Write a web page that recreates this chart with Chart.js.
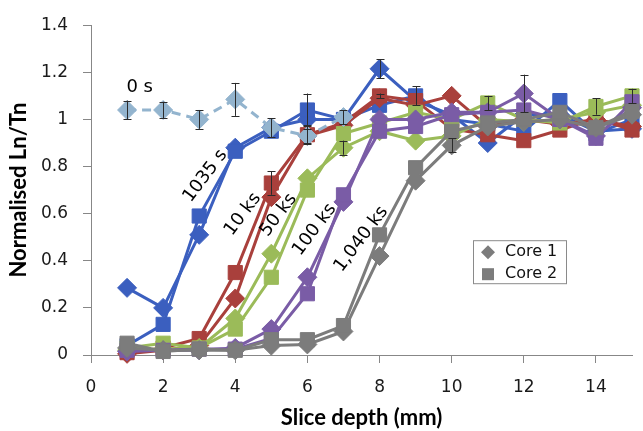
<!DOCTYPE html>
<html><head><meta charset="utf-8">
<script src="https://cdn.jsdelivr.net/npm/chart.js@4/dist/chart.umd.min.js"></script>
<style>html,body{margin:0;padding:0;background:#fff;overflow:hidden}canvas{display:block}</style>
</head><body>
<canvas id="c" width="643" height="431"></canvas>
<script>
// ---------- data ----------
const depths = [1,2,3,4,5,6,7,8,9,10,11,12,13,14,15];
const timeLabels = ['0 s','1035 s','10 ks','50 ks','100 ks','1,040 ks'];
const coreLabels = ['Core 1','Core 2'];
const xTickValues = [0,2,4,6,8,10,12,14];
const yTickValues = [0,0.2,0.4,0.6,0.8,1,1.2,1.4];

const t0_core1     = [1.04,1.04,1.00,1.085,0.965,0.93,1.01];
const t1035_core1  = [0.285,0.20,0.51,0.88,0.965,1.00,1.00,1.215,1.08,1.02,0.90,1.02,1.02,0.95,0.96];
const t1035_core2  = [0.04,0.13,0.59,0.865,0.95,1.04,1.00,1.06,1.10,1.00,0.98,0.95,1.08,0.94,1.00];
const t10k_core1   = [0.005,0.02,0.04,0.24,0.67,0.93,0.975,1.09,1.06,1.10,0.97,1.00,0.98,1.00,0.97];
const t10k_core2   = [0.01,0.03,0.07,0.35,0.73,0.935,0.985,1.10,1.08,0.96,0.935,0.91,0.955,1.005,0.955];
const t50k_core1   = [0.02,0.025,0.03,0.155,0.43,0.75,0.88,0.95,0.91,0.93,1.00,0.99,1.00,1.03,1.06];
const t50k_core2   = [0.03,0.05,0.03,0.11,0.33,0.70,0.94,0.985,1.03,1.00,1.07,1.00,0.985,1.055,1.10];
const t100k_core1  = [0.015,0.02,0.02,0.03,0.11,0.33,0.65,1.00,1.00,1.03,1.03,1.11,1.00,0.93,1.05];
const t100k_core2  = [0.02,0.02,0.025,0.025,0.07,0.26,0.68,0.95,0.97,1.02,1.03,1.04,1.00,0.92,1.075];
const t1040k_core1 = [0.03,0.02,0.02,0.02,0.04,0.045,0.10,0.42,0.74,0.89,0.97,0.99,1.00,0.965,1.02];
const t1040k_core2 = [0.05,0.015,0.025,0.02,0.065,0.065,0.125,0.51,0.795,0.95,0.985,1.00,1.03,0.965,1.035];

// error bar half-widths (0 = none)
const err_t0_core1     = [0.04,0.035,0.04,0.07,0.04,0.03,0.03];
const err_t1035_core1  = [0,0,0,0,0,0,0,0.04,0,0,0,0,0,0,0];
const err_t1035_core2  = [0,0,0,0,0,0.07,0,0,0.04,0,0,0,0,0,0];
const err_t10k_core2   = [0,0,0,0,0.05,0.04,0,0.01,0,0,0,0,0,0,0];
const err_t50k_core1   = [0,0,0,0,0,0,0.03,0,0,0,0,0,0,0,0];
const err_t50k_core2   = [0,0,0,0,0,0,0,0,0,0,0.03,0,0,0.035,0.03];
const err_t100k_core1  = [0,0,0,0,0,0,0,0,0,0,0,0.08,0,0,0];
const err_t1040k_core1 = [0,0,0,0,0,0,0,0,0,0.03,0,0,0,0,0];

// ---------- styles ----------
const colLight = '#93B4CE', colBlue = '#3B5FBF', colRed = '#A9403C',
      colGreen = '#9BBB59', colPurple = '#7A5CA6', colGray = '#7C7C7C';

function pts(vals){ return vals.map((v,i)=>({x:depths[i], y:v})); }
function ds(label, vals, errs, color, core, dashed){
  return {
    label, data: pts(vals), errors: errs || null,
    borderColor: color, backgroundColor: color,
    pointBackgroundColor: color, pointBorderColor: color, pointBorderWidth: 1,
    pointStyle: core === 1 ? 'rectRot' : 'rect',
    pointRadius: core === 1 ? 9.5 : 10, pointHoverRadius: 10,
    borderWidth: 3, tension: 0, borderDash: dashed ? [9,6] : [],
    clip: false
  };
}

const datasets = [
  ds(timeLabels[0]+' '+coreLabels[0], t0_core1, err_t0_core1, colLight, 1, true),
  ds(timeLabels[5]+' '+coreLabels[1], t1040k_core2, null, colGray, 2),
  ds(timeLabels[5]+' '+coreLabels[0], t1040k_core1, err_t1040k_core1, colGray, 1),
  ds(timeLabels[4]+' '+coreLabels[1], t100k_core2, null, colPurple, 2),
  ds(timeLabels[4]+' '+coreLabels[0], t100k_core1, err_t100k_core1, colPurple, 1),
  ds(timeLabels[3]+' '+coreLabels[1], t50k_core2, err_t50k_core2, colGreen, 2),
  ds(timeLabels[3]+' '+coreLabels[0], t50k_core1, err_t50k_core1, colGreen, 1),
  ds(timeLabels[2]+' '+coreLabels[1], t10k_core2, err_t10k_core2, colRed, 2),
  ds(timeLabels[2]+' '+coreLabels[0], t10k_core1, null, colRed, 1),
  ds(timeLabels[1]+' '+coreLabels[1], t1035_core2, err_t1035_core2, colBlue, 2),
  ds(timeLabels[1]+' '+coreLabels[0], t1035_core1, err_t1035_core1, colBlue, 1),
];

// ---------- plugins ----------
const errorBars = {
  id: 'errorBars',
  afterDatasetsDraw(chart){
    const {ctx, scales:{x, y}} = chart;
    ctx.save();
    ctx.strokeStyle = '#2b2b2b'; ctx.lineWidth = 1;
    chart.data.datasets.forEach(d => {
      if (!d.errors) return;
      d.data.forEach((p,i) => {
        const e = d.errors[i]; if (!e) return;
        const px = Math.round(x.getPixelForValue(p.x)) + 0.5;
        const yt = y.getPixelForValue(p.y + e), yb = y.getPixelForValue(p.y - e);
        ctx.beginPath();
        ctx.moveTo(px, yt); ctx.lineTo(px, yb);
        ctx.moveTo(px-4, Math.round(yt)+0.5); ctx.lineTo(px+4, Math.round(yt)+0.5);
        ctx.moveTo(px-4, Math.round(yb)+0.5); ctx.lineTo(px+4, Math.round(yb)+0.5);
        ctx.stroke();
      });
    });
    ctx.restore();
  }
};

const seriesLabels = {
  id: 'seriesLabels',
  afterDraw(chart){
    const {ctx, scales:{x, y}, chartArea} = chart;
    const anchors = [
      {t: timeLabels[0], x: 1.35, y: 1.136, r: 0},
      {t: timeLabels[1], x: 3.17, y: 0.76, r: -53},
      {t: timeLabels[2], x: 4.21, y: 0.597, r: -53},
      {t: timeLabels[3], x: 5.2, y: 0.594, r: -53},
      {t: timeLabels[4], x: 6.2, y: 0.532, r: -53},
      {t: timeLabels[5], x: 7.49, y: 0.492, r: -53},
    ];
    ctx.save();
    ctx.fillStyle = '#000';
    ctx.font = '18px "DejaVu Sans"';
    ctx.textAlign = 'center'; ctx.textBaseline = 'middle';
    anchors.forEach(a => {
      ctx.save();
      ctx.translate(x.getPixelForValue(a.x), y.getPixelForValue(a.y));
      ctx.rotate(a.r * Math.PI/180);
      ctx.fillText(a.t, 0, 0);
      ctx.restore();
    });
    // legend box
    const L = chartArea.left + 382, T = chartArea.top + 215, W = 93, H = 43;
    ctx.fillStyle = '#fff'; ctx.fillRect(L, T, W, H);
    ctx.strokeStyle = '#8a8a8a'; ctx.lineWidth = 1;
    ctx.strokeRect(L+0.5, T+0.5, W, H);
    ctx.fillStyle = colGray;
    const dx = L + 15, dy = T + 12;
    ctx.beginPath(); ctx.moveTo(dx-7, dy); ctx.lineTo(dx, dy-7); ctx.lineTo(dx+7, dy); ctx.lineTo(dx, dy+7); ctx.closePath(); ctx.fill();
    ctx.fillRect(L + 9, T + 28, 12, 12);
    ctx.fillStyle = '#111';
    ctx.font = '16px "DejaVu Sans"';
    ctx.textAlign = 'left';
    ctx.fillText(coreLabels[0], L + 32, dy);
    ctx.fillText(coreLabels[1], L + 32, T + 34);
    ctx.restore();
  }
};

const axisGray = '#878787';
new Chart(document.getElementById('c'), {
  type: 'line',
  data: { datasets },
  plugins: [errorBars, seriesLabels],
  options: {
    responsive: false, animation: false, devicePixelRatio: 1,
    layout: { padding: { top: 21, left: 0, right: 0, bottom: 0 } },
    plugins: { legend: { display: false }, tooltip: { enabled: false } },
    scales: {
      x: {
        type: 'linear', min: 0, max: 15,
        afterBuildTicks: s => { s.ticks = xTickValues.map(v => ({value: v})); },
        afterFit: s => { s.height = 76; },
        grid: { drawOnChartArea: false, drawTicks: true, tickLength: 8, color: axisGray },
        border: { display: true, color: axisGray, width: 1 },
        ticks: { padding: 14, color: '#1a1a1a', font: { family: 'DejaVu Sans', size: 17 }, maxRotation: 0,
                 callback: v => String(v) },
        title: { display: true, text: 'Slice depth (mm)', color: '#000',
                 font: { family: 'Lato', size: 22, weight: 'bold', lineHeight: 1.2 }, padding: { top: 0, bottom: 0 } }
      },
      y: {
        type: 'linear', min: 0, max: 1.4,
        afterBuildTicks: s => { s.ticks = yTickValues.map(v => ({value: v})); },
        afterFit: s => { s.width = 91; },
        grid: { drawOnChartArea: false, drawTicks: true, tickLength: 8, color: axisGray },
        border: { display: true, color: axisGray, width: 1 },
        ticks: { padding: 15, color: '#1a1a1a', font: { family: 'DejaVu Sans', size: 17 },
                 callback: v => String(+Number(v).toFixed(1)) },
        title: { display: true, text: 'Normalised Ln/Tn', color: '#000',
                 font: { family: 'Lato', size: 22, weight: 'bold', lineHeight: 1.2 }, padding: { top: 6, bottom: 0 } }
      }
    }
  }
});
</script>
</body></html>
